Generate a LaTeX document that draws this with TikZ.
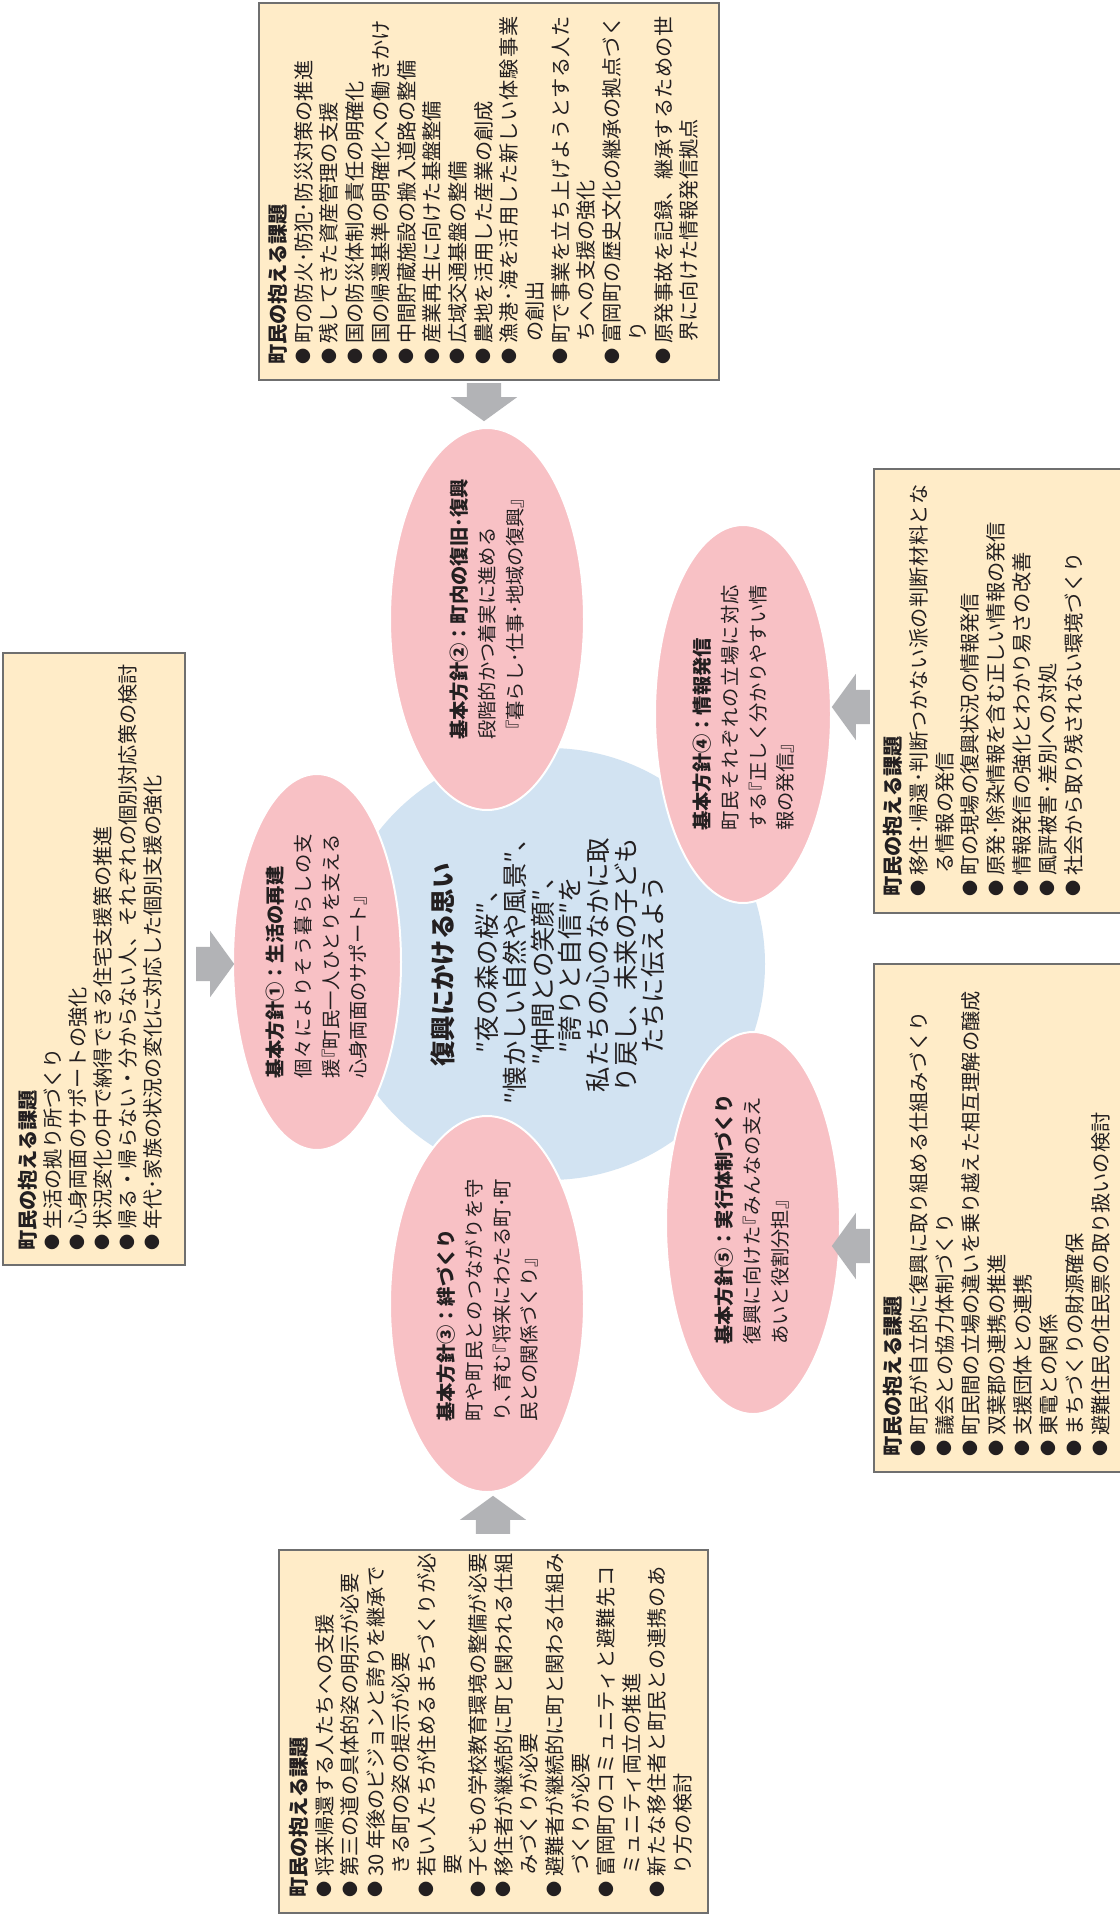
\documentclass[tikz,border=0pt]{standalone}
\usepackage{graphicx}
\usepackage{fontspec}
\setmainfont{Noto Sans CJK JP}
\usetikzlibrary{shapes.geometric,shapes.arrows}
\definecolor{boxfill}{HTML}{FFECC8}
\definecolor{boxline}{HTML}{6F6F6F}
\definecolor{pinkfill}{HTML}{F8C1C5}
\definecolor{bluefill}{HTML}{D2E3F2}
\definecolor{arrowgray}{HTML}{B2B3B6}
\definecolor{ink}{HTML}{231F20}
\newcommand\bul{\makebox[1.05em][l]{\raisebox{0.08em}{\scalebox{0.8}{●}}}}
\newcommand\cnt{\hspace*{1.15em}}
\newcommand\ob{\makebox[0.5em][r]{『}}
\newcommand\tc{\makebox[0.5em][l]{、}}
\def\jus#1#2{\hbox to #1{\jfirst#2\relax}}
\def\jfirst#1{#1\jloop}
\def\jloop#1{\ifx#1\relax\else\hfil#1\expandafter\jloop\fi}
\begin{document}
\begin{tikzpicture}[x=1pt,y=-1pt,
  issuebox/.style={rectangle,draw=boxline,line width=1.2pt,fill=boxfill,inner sep=0pt,outer sep=0pt},
  policy/.style={ellipse,fill=pinkfill,draw=white,line width=2pt,inner sep=0pt},
  hope/.style={circle,fill=bluefill,draw=none,inner sep=0pt},
  boxtext/.style={rotate=90,anchor=north west,align=left,inner sep=0pt,text=ink,font=\fontsize{20.2}{25.7}\selectfont},
  ptext/.style={rotate=90,anchor=north west,align=left,inner sep=0pt,text=ink,font=\fontsize{19.3}{27.6}\selectfont},
  blockarrow/.style={single arrow,fill=arrowgray,draw=none,inner xsep=0pt,inner ysep=17pt,
     single arrow head extend=16pt,single arrow tip angle=108,minimum height=38pt,anchor=tail}]
\useasboundingbox (0,0) rectangle (1119,1919);
\fill[white] (0,0) rectangle (1119,1919);

% centre circle
\node[hope,minimum size=432pt] (core) at (549,964) {};

% policy ellipses
\node[policy,minimum width=168pt,minimum height=376pt] (p1) at (317,962) {};
\node[policy,minimum width=194pt,minimum height=382pt] (p2) at (487,619) {};
\node[policy,minimum width=194pt,minimum height=376pt] (p3) at (487,1304) {};
\node[policy,minimum width=176pt,minimum height=378pt] (p4) at (743,714) {};
\node[policy,minimum width=174pt,minimum height=382pt] (p5) at (753,1223) {};

% centre text
\node[rotate=90,anchor=north,align=center,inner sep=0pt,text=ink,font=\fontsize{25.4}{27.7}\selectfont] (coretext) at (431,965)
 {{\bfseries 復興にかける思い}\\[16pt]
  ″夜の森の桜″、\\
  ″懐かしい自然や風景″、\\
  ″仲間との笑顔″、\\
  ″誇りと自信″を\\
  私たちの心のなかに取\\
  り戻し、未来の子ども\\
  たちに伝えよう};

% policy texts
\node[ptext] (p1text) at (266,1079)
 {{\bfseries 基本方針①：生活の再建}\\
  \jus{245pt}{個々によりそう暮らしの支}\\
  \jus{245pt}{援\ob 町民一人ひとりを支える}\\
  心身両面のサポート』};
\node[ptext] (p2text) at (450,740)
 {{\bfseries 基本方針②：町内の復旧･復興}\\
  段階的かつ着実に進める\\
  『暮らし･仕事･地域の復興』};
\node[ptext] (p3text) at (437,1422)
 {{\bfseries 基本方針③：絆づくり}\\
  \jus{243pt}{町や町民とのつながりを守}\\
  \jus{243pt}{り\tc 育む\ob 将来にわたる町･町}\\
  民との関係づくり』};
\node[ptext] (p4text) at (693,831)
 {{\bfseries 基本方針④：情報発信}\\
  \jus{246pt}{町民それぞれの立場に対応}\\
  \jus{246pt}{する\ob 正しく分かりやすい情}\\
  報の発信』};
\node[ptext] (p5text) at (715,1345)
 {{\bfseries 基本方針⑤：実行体制づくり}\\
  \jus{248pt}{復興に向けた\ob みんなの支え}\\
  あいと役割分担』};

% issue boxes
\node[issuebox,minimum width=460pt,minimum height=377pt] (b1) at (489,191.5) {};
\node[issuebox,minimum width=182pt,minimum height=612pt] (b2) at (94,959) {};
\node[issuebox,minimum width=250pt,minimum height=444pt] (b3) at (999,691) {};
\node[issuebox,minimum width=250pt,minimum height=508pt] (b4) at (999,1218) {};
\node[issuebox,minimum width=429pt,minimum height=363pt] (b5) at (493.5,1731.5) {};

\node[boxtext] (b1text) at (268,365)
 {{\bfseries 町民の抱える課題}\\
  \bul 町の防火･防犯･防災対策の推進\\
  \bul 残してきた資産管理の支援\\
  \bul 国の防災体制の責任の明確化\\
  \bul 国の帰還基準の明確化への働きかけ\\
  \bul 中間貯蔵施設の搬入道路の整備\\
  \bul 産業再生に向けた基盤整備\\
  \bul 広域交通基盤の整備\\
  \bul 農地を活用した産業の創成\\
  \bul\jus{327pt}{漁港･海を活用した新しい体験事業}\\
  \cnt の創出\\
  \bul\jus{327pt}{町で事業を立ち上げようとする人た}\\
  \cnt ちへの支援の強化\\
  \bul\jus{327pt}{富岡町の歴史文化の継承の拠点づく}\\
  \cnt り\\
  \bul\jus{327pt}{原発事故を記録、継承するための世}\\
  \cnt 界に向けた情報発信拠点};

\node[boxtext,font=\fontsize{20.2}{25}\selectfont] (b2text) at (18,1251)
 {{\bfseries 町民の抱える課題}\\
  \bul 生活の拠り所づくり\\
  \bul 心身両面のサポートの強化\\
  \bul 状況変化の中で納得できる住宅支援策の推進\\
  \bul 帰る・帰らない・分からない人、それぞれの個別対応策の検討\\
  \bul 年代･家族の状況の変化に対応した個別支援の強化};

\node[boxtext,font=\fontsize{20.2}{25.8}\selectfont] (b3text) at (883,897)
 {{\bfseries 町民の抱える課題}\\
  \bul\jus{391pt}{移住･帰還･判断つかない派の判断材料とな}\\
  \cnt る情報の発信\\
  \bul 町の現場の復興状況の情報発信\\
  \bul 原発･除染情報を含む正しい情報の発信\\
  \bul 情報発信の強化とわかり易さの改善\\
  \bul 風評被害･差別への対処\\
  \bul 社会から取り残されない環境づくり};

\node[boxtext,font=\fontsize{20.2}{26}\selectfont] (b4text) at (883,1457)
 {{\bfseries 町民の抱える課題}\\
  \bul 町民が自立的に復興に取り組める仕組みづくり\\
  \bul 議会との協力体制づくり\\
  \bul 町民間の立場の違いを乗り越えた相互理解の醸成\\
  \bul 双葉郡の連携の推進\\
  \bul 支援団体との連携\\
  \bul 東電との関係\\
  \bul まちづくりの財源確保\\
  \bul 避難住民の住民票の取り扱いの検討};

\node[boxtext,font=\fontsize{20.2}{25.6}\selectfont] (b5text) at (289,1898)
 {{\bfseries 町民の抱える課題}\\
  \bul 将来帰還する人たちへの支援\\
  \bul 第三の道の具体的姿の明示が必要\\
  \bul\jus{310pt}{{30\ }年後のビジョンと誇りを継承で}\\
  \cnt きる町の姿の提示が必要\\
  \bul\jus{310pt}{若い人たちが住めるまちづくりが必}\\
  \cnt 要\\
  \bul 子どもの学校教育環境の整備が必要\\
  \bul\jus{310pt}{移住者が継続的に町と関われる仕組}\\
  \cnt みづくりが必要\\
  \bul\jus{310pt}{避難者が継続的に町と関わる仕組み}\\
  \cnt づくりが必要\\
  \bul\jus{310pt}{富岡町のコミュニティと避難先コ}\\
  \cnt ミュニティ両立の推進\\
  \bul\jus{310pt}{新たな移住者と町民との連携のあ}\\
  \cnt り方の検討};

% block arrows
\node[blockarrow,rotate=-90] (a1) at (484,383) {};
\node[blockarrow] (a2) at (196,964) {};
\node[blockarrow,rotate=180] (a3) at (870,707) {};
\node[blockarrow,rotate=180] (a4) at (870,1246) {};
\node[blockarrow,rotate=90] (a5) at (493,1534) {};
\end{tikzpicture}
\end{document}
